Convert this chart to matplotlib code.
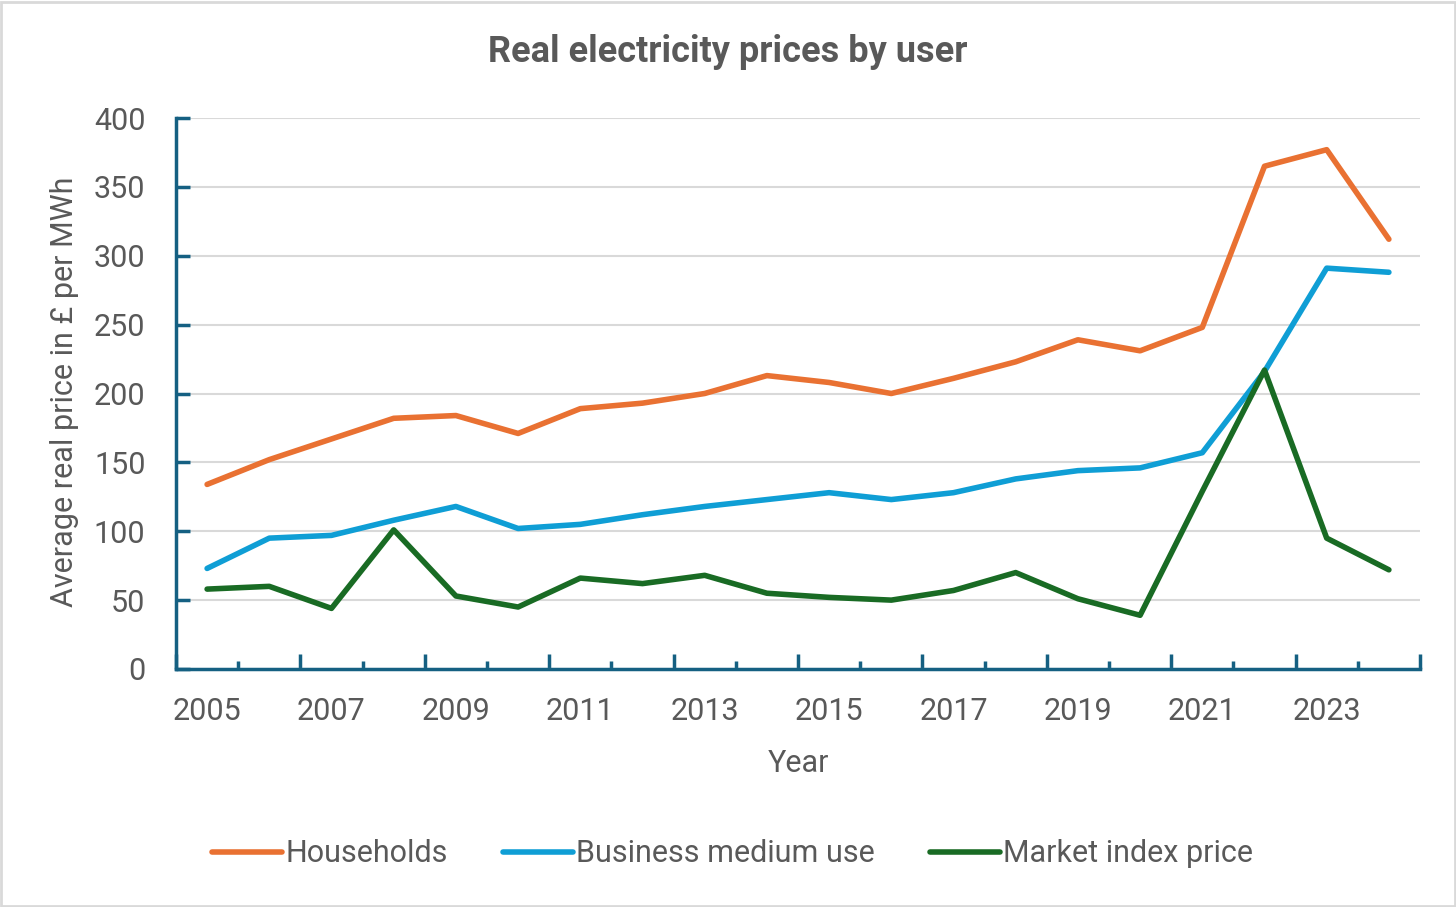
import matplotlib
matplotlib.use("Agg")
import matplotlib.pyplot as plt
from matplotlib.patches import Rectangle
from matplotlib.ticker import FixedLocator

YEARS = list(range(2005, 2025))
HOUSEHOLDS = [134, 152, 167, 182, 184, 171, 189, 193, 200, 213, 208, 200, 211, 223,
              239, 231, 248, 365, 377, 312]
BUSINESS = [73, 95, 97, 108, 118, 102, 105, 112, 118, 123, 128, 123, 128, 138,
            144, 146, 157, 216, 291, 288]
MARKET = [58, 60, 44, 101, 53, 45, 66, 62, 68, 55, 52, 50, 57, 70,
          51, 39, 129, 217, 95, 72]

SERIES = [
    ("Households", HOUSEHOLDS, "#E97132"),
    ("Business medium use", BUSINESS, "#0F9ED5"),
    ("Market index price", MARKET, "#196B24"),
]

AXIS_COLOR = "#156082"
TEXT_COLOR = "#595959"
FS = 22

plt.rcParams["font.family"] = ["Roboto", "DejaVu Sans"]

fig = plt.figure(figsize=(14.56, 9.07), dpi=100)
ax = fig.add_axes([176 / 1456, 1 - 669 / 907, (1420 - 176) / 1456, (669 - 118) / 907])

x = list(range(len(YEARS)))
for name, values, color in SERIES:
    ax.plot(x, values, color=color, lw=4, label=name, solid_capstyle="round",
            solid_joinstyle="round")

ax.set_xlim(-0.5, len(YEARS) - 0.5)
ax.set_ylim(0, 400)
ax.set_yticks(range(0, 401, 50))
ax.yaxis.grid(True, color="#D9D9D9", lw=1.5)
ax.set_axisbelow(True)

# category boundaries: long ticks every two years, short ones in between
major = [i - 0.5 for i in range(0, len(YEARS) + 1, 2)]
minor = [i - 0.5 for i in range(1, len(YEARS), 2)]
ax.xaxis.set_major_locator(FixedLocator(major))
ax.xaxis.set_minor_locator(FixedLocator(minor))
ax.set_xticklabels([])
for i in range(0, len(YEARS), 2):
    ax.text(i, -31, str(YEARS[i]), ha="center", va="center", fontsize=FS, color=TEXT_COLOR)

ax.tick_params(axis="x", which="major", direction="in", length=11, width=2.5, color=AXIS_COLOR)
ax.tick_params(axis="x", which="minor", direction="in", length=6, width=2.5, color=AXIS_COLOR)
ax.tick_params(axis="y", direction="in", length=10, width=2.5, color=AXIS_COLOR,
               labelsize=FS, labelcolor=TEXT_COLOR, pad=22)

for side in ("top", "right"):
    ax.spines[side].set_visible(False)
for side in ("left", "bottom"):
    ax.spines[side].set_color(AXIS_COLOR)
    ax.spines[side].set_linewidth(2.5)

ax.set_xlabel("Year", fontsize=FS, color=TEXT_COLOR, va="center")
ax.xaxis.set_label_coords(0.5, -(763 - 669) / 551)
ax.set_ylabel("Average real price in £ per MWh", fontsize=FS, color=TEXT_COLOR, va="center")
ax.yaxis.set_label_coords((65 - 176) / 1244, 0.503)

fig.text(0.5, 1 - 52 / 907, "Real electricity prices by user", ha="center", va="center",
         fontsize=26, fontweight="bold", color=TEXT_COLOR)

fig.legend(loc="center", bbox_to_anchor=(0.503, 1 - 854 / 907), ncol=3, frameon=False,
           fontsize=FS, labelcolor=TEXT_COLOR, handlelength=2.3, handletextpad=0.1,
           columnspacing=1.8)

fig.patches.append(Rectangle((0.001, 0.001), 0.998, 0.997, transform=fig.transFigure,
                             fill=False, edgecolor="#D9D9D9", lw=2))

fig.savefig("out.png", dpi=100)
